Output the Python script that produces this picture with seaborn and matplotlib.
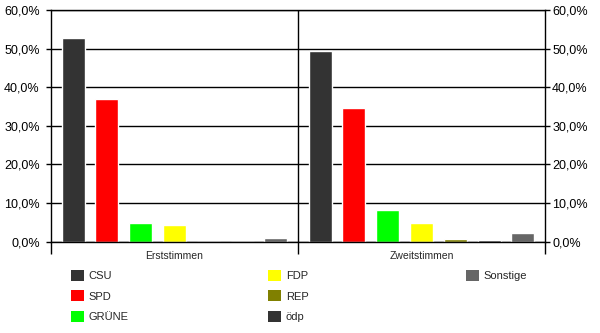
import matplotlib
matplotlib.use("Agg")
import matplotlib.pyplot as plt
import seaborn as sns
import pandas as pd
from matplotlib.ticker import FuncFormatter, FixedLocator
from matplotlib.patches import Patch

groups = ["Erststimmen", "Zweitstimmen"]
parties = ["CSU", "SPD", "GRÜNE", "FDP", "REP", "ödp", "Sonstige"]
erststimmen = [52.7, 36.9, 4.9, 4.2, 0.0, 0.0, 0.8]
zweitstimmen = [49.4, 34.5, 8.1, 4.7, 0.6, 0.3, 2.3]
colors = ["#333333", "#FF0000", "#00FF00", "#FFFF00", "#808000", "#333333", "#666666"]
yticks = [0, 10, 20, 30, 40, 50, 60]

rows = []
for p, v in zip(parties, erststimmen):
    rows.append({"group": groups[0], "party": p, "value": v})
for p, v in zip(parties, zweitstimmen):
    rows.append({"group": groups[1], "party": p, "value": v})
df = pd.DataFrame(rows)

sns.set_style("white")
plt.rcParams["font.family"] = ["Liberation Sans", "DejaVu Sans"]

fig = plt.figure(figsize=(6, 3.33), dpi=100)
ax = fig.add_axes([51 / 600, (333 - 241.5) / 333, (545 - 51) / 600, 231.5 / 333])

sns.barplot(data=df, x="group", y="value", hue="party", hue_order=parties,
            order=groups, palette=colors, width=0.958, gap=0.32, legend=False,
            saturation=1, ax=ax, errorbar=None)

ax.set_xlim(-0.5, 1.5)
ax.set_ylim(0, 60)
ax.set_xlabel("")
ax.set_ylabel("")
fmt = FuncFormatter(lambda v, pos: f"{v:.1f}%".replace(".", ","))
ax.yaxis.set_major_locator(FixedLocator(yticks))
ax.yaxis.set_major_formatter(fmt)
ax.grid(axis="y", color="black", linewidth=1)
ax.set_axisbelow(True)
ax.tick_params(axis="y", which="major", left=True, length=3.6, width=1,
               color="black", labelsize=9, pad=4.5, labelcolor="black")
ax.tick_params(axis="x", which="major", length=0, labelsize=7.5, pad=7)
ax.xaxis.set_minor_locator(FixedLocator([-0.5, 0.5, 1.5]))
ax.tick_params(axis="x", which="minor", bottom=True, length=8.5, width=1, color="black")
ax.axvline(0.5, color="black", linewidth=1)
for s in ["left", "right", "bottom", "top"]:
    ax.spines[s].set_color("black")
    ax.spines[s].set_linewidth(1)

ax2 = ax.twinx()
ax2.set_ylim(0, 60)
ax2.yaxis.set_major_locator(FixedLocator(yticks))
ax2.yaxis.set_major_formatter(fmt)
ax2.tick_params(axis="y", right=True, length=3.6, width=1, color="black",
                labelsize=9, pad=1.5, labelcolor="black")
for s in ax2.spines.values():
    s.set_visible(False)

handles = [Patch(facecolor=c, edgecolor="none") for c in colors]
cols = [(0, 3, 71), (3, 6, 268), (6, 7, 466)]
for a, b, xpx in cols:
    fig.legend(handles[a:b], parties[a:b], loc="upper left",
               bbox_to_anchor=(xpx / 600, (333 - 269.5) / 333),
               frameon=False, ncol=1, fontsize=8, handlelength=1.17,
               handleheight=1.17, handletextpad=0.42, labelspacing=0.85,
               borderpad=0, borderaxespad=0)

fig.savefig("out.png", dpi=100, facecolor="white")
